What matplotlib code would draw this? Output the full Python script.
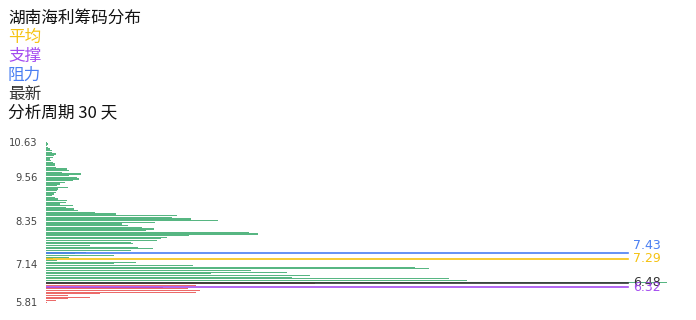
import numpy as np
import matplotlib
matplotlib.use("Agg")
import matplotlib.pyplot as plt

plt.rcParams['font.family'] = ['Noto Sans CJK SC', 'DejaVu Sans']

# ---- data ----
title = "湖南海利筹码分布"
period_text = "分析周期 30 天"
tick_labels = ["5.81", "7.14", "8.35", "9.56", "10.63"]
tick_prices = [5.81, 7.14, 8.35, 9.56, 10.63]
tick_rows = [0, 23, 49, 75, 96]

# volumes below latest price (loss chips), bottom -> top
vol_below = [0.7, 10, 22.3, 44, 22.3, 54, 150, 154, 141.7, 117.3, 149.7, 269]
# volumes above latest price (profit chips), bottom -> top
vol_above = [621, 421, 403, 246.3, 264, 164.7, 241.3, 205, 383, 369,
             146.7, 68, 89.7, 11.3, 6.7, 23, 68, 29, 40, 84.7,
             106.7, 92.3, 44, 87.3, 85, 110.7, 115, 120.7, 143, 211.7,
             203.3, 99.7, 108.3, 95.7, 81.7, 75.7, 109, 172.3,
             145, 125.7, 130.7, 70, 48.7, 32.3, 28, 20.3, 26.7, 14,
             19.5, 20.7, 12, 9, 5.7, 7.7, 10, 11, 12, 22,
             11.3, 14.3, 18.7, 27, 32.5, 31.3, 23, 35, 16, 22.5,
             20.5, 10, 9, 9, 6.5, 5, 4, 6.5, 7.5, 10,
             6, 6, 4, 2, 1.2, 1.5, 1]

avg_price = 7.29
support_price = 6.32
resist_price = 7.43
latest_price = 6.48

# ---- figure ----
W, H = 696, 320
fig = plt.figure(figsize=(W / 100, H / 100), dpi=100)
ax = fig.add_axes([46 / W, 17 / H, (668 - 46) / W, 161.5 / H])

n_below = len(vol_below)
rows_below = np.arange(n_below)
rows_above = np.arange(n_below, n_below + len(vol_above))

ax.barh(rows_below, vol_below, height=0.72, color='#e8504f', alpha=0.85, linewidth=0)
ax.barh(rows_above, vol_above, height=0.72, color='#3aa96c', alpha=0.85, linewidth=0)

ax.set_xlim(0, 622)
ax.set_ylim(-0.5, n_below + len(vol_above) - 0.5)

ax.set_yticks(tick_rows)
ax.set_yticklabels(tick_labels, family='DejaVu Sans', fontsize=7.2, color='#444444')
ax.tick_params(axis='y', length=0, pad=6)
ax.set_xticks([])
for s in ax.spines.values():
    s.set_visible(False)


def price_row(p):
    return np.interp(p, tick_prices, tick_rows)


line_end = 582 / 622
label_x = 587 / 622
lines = [
    (resist_price, '#4a7ef2', 5.8),
    (avg_price, '#f5c211', 0),
    (latest_price, '#333333', 0),
    (support_price, '#a44cf0', 0),
]
for price, color, dy in lines:
    r = price_row(price)
    ax.axhline(r, xmin=0, xmax=line_end, color=color, linewidth=1.2)
    ax.annotate(f"{price:.2f}", xy=(label_x, r), xycoords=('axes fraction', 'data'),
                xytext=(0, dy), textcoords='offset points',
                ha='left', va='center', fontsize=9, color=color, family='DejaVu Sans')

# ---- title block ----
block = [
    (title, '#111111'),
    ("平均", '#f5c211'),
    ("支撑", '#a44cf0'),
    ("阻力", '#4a7ef2'),
    ("最新", '#333333'),
    (period_text, '#111111'),
]
for i, (txt, col) in enumerate(block):
    fig.text(8 / W, 1 - (18 + 19 * i) / H, txt, ha='left', va='center',
             fontsize=12, color=col)

fig.savefig("out.png", dpi=100)
